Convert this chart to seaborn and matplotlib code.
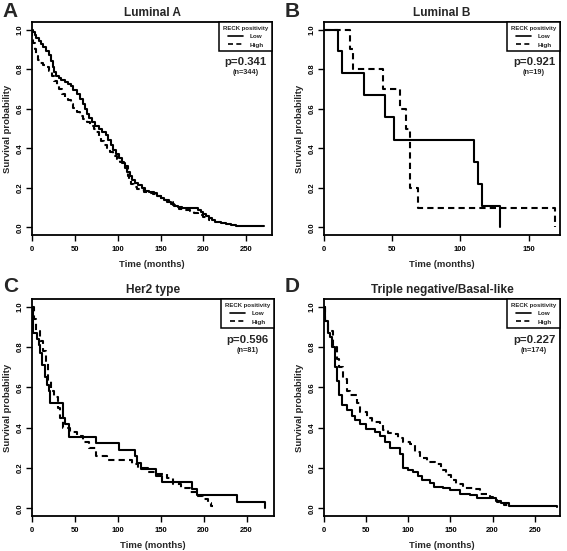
import pandas as pd
import matplotlib
matplotlib.use("Agg")
import matplotlib.pyplot as plt
import seaborn as sns

# Luminal A
a_low_t = [0, 1, 3, 5, 8, 11, 13, 16, 20, 22, 24, 26, 28, 31, 34, 38, 42, 46, 48, 52, 56, 59, 62,
           64, 67, 70, 74, 78, 82, 86, 89, 92, 95, 98, 102, 105, 108, 111, 114, 117, 120, 124, 128,
           132, 137, 142, 146, 150, 154, 158, 162, 166, 170, 175, 194, 197, 200, 203, 206, 210, 214,
           220, 226, 232, 238, 271]
a_low_s = [1.0, 0.985, 0.97, 0.955, 0.94, 0.925, 0.91, 0.89, 0.87, 0.84, 0.81, 0.785, 0.765, 0.755,
           0.745, 0.735, 0.725, 0.715, 0.695, 0.675, 0.65, 0.625, 0.6, 0.575, 0.555, 0.535, 0.515,
           0.495, 0.48, 0.465, 0.44, 0.415, 0.39, 0.37, 0.35, 0.325, 0.3, 0.28, 0.26, 0.24, 0.225,
           0.215, 0.2, 0.185, 0.178, 0.172, 0.16, 0.148, 0.14, 0.13, 0.12, 0.11, 0.103, 0.097, 0.09,
           0.08, 0.07, 0.057, 0.046, 0.038, 0.03, 0.022, 0.017, 0.012, 0.007, 0.007]
a_high_t = [0, 0.5, 1, 3, 5, 7, 9, 13, 17, 20, 23, 26, 29, 32, 35, 38, 42, 45, 48, 52, 56, 60, 64,
            68, 72, 75, 78, 81, 84, 87, 91, 95, 99, 103, 107, 110, 112, 113, 116, 119, 123, 127, 131,
            136, 141, 146, 150, 155, 160, 164, 168, 172, 178, 184, 189, 194, 199, 203, 206, 208]
a_high_s = [1.0, 0.96, 0.93, 0.9, 0.865, 0.845, 0.83, 0.82, 0.81, 0.79, 0.765, 0.74, 0.72, 0.7,
            0.675, 0.66, 0.645, 0.625, 0.605, 0.585, 0.565, 0.55, 0.535, 0.515, 0.5, 0.48, 0.455,
            0.435, 0.415, 0.4, 0.38, 0.36, 0.345, 0.333, 0.32, 0.31, 0.26, 0.24, 0.22, 0.205, 0.195,
            0.188, 0.18, 0.175, 0.168, 0.158, 0.148, 0.138, 0.127, 0.115, 0.105, 0.094, 0.088, 0.082,
            0.073, 0.063, 0.055, 0.048, 0.04, 0.04]

# Luminal B
b_low_t = [0, 10, 13, 29, 45, 51, 110, 113, 116, 129]
b_low_s = [1.0, 0.889, 0.778, 0.667, 0.556, 0.444, 0.333, 0.222, 0.111, 0.0]
b_high_t = [0, 19, 21.5, 43.5, 56, 60, 63, 69, 169]
b_high_s = [1.0, 0.9, 0.8, 0.7, 0.6, 0.5, 0.2, 0.1, 0.0]

# Her2 type
c_low_t = [0, 1, 5.8, 8.2, 9.7, 12, 15.6, 17.9, 19.8, 21.4, 36.2, 38.9, 43.2, 75, 101.5, 119.8,
           122.5, 127, 145, 151, 186, 192, 239, 271]
c_low_s = [1.0, 0.87, 0.84, 0.81, 0.77, 0.71, 0.65, 0.61, 0.58, 0.52, 0.45, 0.42, 0.355, 0.323,
           0.29, 0.258, 0.226, 0.194, 0.161, 0.129, 0.097, 0.065, 0.032, 0.0]
c_high_t = [0, 2, 5, 9, 13, 16, 19, 22, 26, 30, 33, 36, 44, 52, 59.5, 67, 75, 87, 116, 124, 135,
            145, 157, 164, 174, 184, 192, 199, 205, 209, 211]
c_high_s = [1.0, 0.94, 0.88, 0.83, 0.78, 0.72, 0.63, 0.58, 0.55, 0.5, 0.45, 0.4, 0.38, 0.36, 0.33,
            0.3, 0.26, 0.24, 0.22, 0.2, 0.18, 0.17, 0.15, 0.12, 0.1, 0.08, 0.06, 0.045, 0.025, 0.01,
            0.01]

# Triple negative/Basal-like
d_low_t = [0, 1, 5, 7, 10, 13, 16, 18, 21, 27, 33, 37, 43, 50, 60, 66, 72, 78, 90, 94, 100, 106,
           112, 116, 125.6, 130, 141, 149, 161, 173, 181, 204, 210, 220, 276]
d_low_s = [1.0, 0.93, 0.87, 0.85, 0.8, 0.7, 0.63, 0.56, 0.51, 0.49, 0.46, 0.44, 0.42, 0.395, 0.38,
           0.36, 0.33, 0.3, 0.27, 0.2, 0.19, 0.18, 0.16, 0.14, 0.125, 0.105, 0.1, 0.09, 0.07, 0.065,
           0.05, 0.035, 0.025, 0.012, 0.008]
d_high_t = [0, 1, 5, 11, 15, 18, 23, 27, 31, 39.5, 43, 50.5, 56.5, 66, 70, 76, 82, 88, 94, 102,
            108, 114, 122, 131.5, 139, 145, 151, 157, 165, 177, 185, 193, 197, 200, 205, 214, 218]
d_high_s = [1.0, 0.93, 0.88, 0.8, 0.74, 0.7, 0.64, 0.58, 0.56, 0.52, 0.48, 0.45, 0.43, 0.42, 0.39,
            0.375, 0.37, 0.35, 0.33, 0.32, 0.28, 0.25, 0.23, 0.22, 0.19, 0.165, 0.14, 0.12, 0.1,
            0.095, 0.07, 0.065, 0.055, 0.04, 0.03, 0.015, 0.015]

letters = ["A", "B", "C", "D"]
titles = ["Luminal A", "Luminal B", "Her2 type", "Triple negative/Basal-like"]
p_texts = ["p=0.341", "p=0.921", "p=0.596", "p=0.227"]
n_texts = ["(n=344)", "(n=19)", "(n=81)", "(n=174)"]
xmax = [280, 173, 282, 280]
xticks = [[0, 50, 100, 150, 200, 250], [0, 50, 100, 150],
          [0, 50, 100, 150, 200, 250], [0, 50, 100, 150, 200, 250]]
curves = [(a_low_t, a_low_s, a_high_t, a_high_s),
          (b_low_t, b_low_s, b_high_t, b_high_s),
          (c_low_t, c_low_s, c_high_t, c_high_s),
          (d_low_t, d_low_s, d_high_t, d_high_s)]

sns.set_style("ticks")
plt.rcParams["font.family"] = ["Liberation Sans", "DejaVu Sans"]
plt.rcParams["font.weight"] = "bold"

W, H = 567, 551
fig = plt.figure(figsize=(W / 100, H / 100), dpi=100)
# axes boxes in pixels: left, top, right, bottom
boxes = [(32, 22, 272, 235), (324, 22, 560, 235), (32, 299, 274, 516), (324, 299, 560, 516)]
letter_pos = [(2, 2), (285, 2), (3, 277), (285, 277)]

for i in range(4):
    l, t, r, b = boxes[i]
    ax = fig.add_axes([l / W, 1 - b / H, (r - l) / W, (b - t) / H])
    lt, ls, ht, hs = curves[i]
    df = pd.concat([
        pd.DataFrame({"time": lt, "surv": ls, "group": "Low"}),
        pd.DataFrame({"time": ht, "surv": hs, "group": "High"}),
    ])
    sns.lineplot(data=df, x="time", y="surv", style="group", style_order=["Low", "High"],
                 dashes={"Low": "", "High": (3, 2)}, color="black", estimator=None,
                 drawstyle="steps-post", linewidth=1.5, ax=ax)
    ax.set_xlim(0, xmax[i])
    ax.set_ylim(-0.038, 1.038)
    ax.set_xticks(xticks[i])
    ax.set_yticks([0, 0.2, 0.4, 0.6, 0.8, 1.0])
    ax.set_yticklabels(["0.0", "0.2", "0.4", "0.6", "0.8", "1.0"], rotation=90, va="center")
    ax.tick_params(labelsize=5.5, length=4, width=1, colors="black")
    ax.tick_params(axis="x", pad=4)
    ax.tick_params(axis="y", pad=2)
    for sp in ax.spines.values():
        sp.set_linewidth(1.3)
        sp.set_color("black")
    ax.set_xlabel("Time (months)", fontsize=6.8, fontweight="bold", labelpad=5)
    ax.set_ylabel("Survival probability", fontsize=6.8, fontweight="bold", labelpad=3)
    ax.set_title(titles[i], fontsize=8.6, fontweight="bold", pad=4)
    handles, labels = ax.get_legend_handles_labels()
    leg = ax.legend(handles, labels, title="RECK positivity", loc="upper right",
                    borderaxespad=0, fontsize=4.6, title_fontsize=4.3, handlelength=2.4,
                    handletextpad=1.0, labelspacing=0.45, borderpad=0.6,
                    fancybox=False, framealpha=1, edgecolor="black")
    leg.get_frame().set_linewidth(1.1)
    leg.get_title().set_fontweight("bold")
    for line in leg.get_lines():
        line.set_linewidth(1.2)
    ax.text(0.89, 0.812, p_texts[i], transform=ax.transAxes, ha="center", va="center",
            fontsize=8.2, fontweight="bold")
    ax.text(0.89, 0.762, n_texts[i], transform=ax.transAxes, ha="center", va="center",
            fontsize=5.3, fontweight="bold")
    fig.text(letter_pos[i][0] / W, 1 - letter_pos[i][1] / H, letters[i], ha="left", va="top",
             fontsize=15, fontweight="bold")

fig.savefig("out.png", dpi=100)
